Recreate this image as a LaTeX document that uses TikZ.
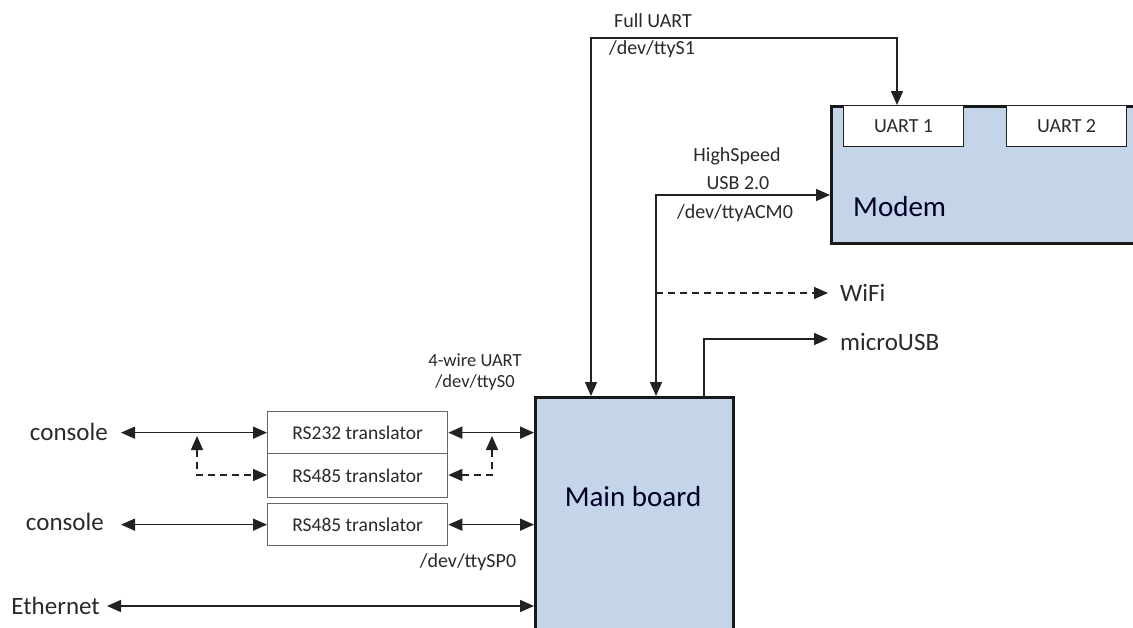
\documentclass[tikz,border=0pt]{standalone}
\usepackage{fontspec}
\setmainfont{Carlito}
\usetikzlibrary{arrows.meta}
\definecolor{boxblue}{HTML}{C5D5E9}
\definecolor{ink}{HTML}{222222}
\definecolor{txt}{HTML}{2A2A2A}
\begin{document}
\begin{tikzpicture}[x=1pt,y=-1pt,
  bigbox/.style={draw=black!90,line width=3pt,fill=boxblue,anchor=north west,inner sep=0pt},
  subbox/.style={draw=ink,line width=1.2pt,fill=white,anchor=north west,inner sep=0pt,font=\fontsize{20}{22}\selectfont,text=txt},
  trbox/.style={draw=black!60,line width=1.3pt,fill=white,anchor=north west,inner sep=0pt,font=\fontsize{19.5}{22}\selectfont,text=txt},
  biglbl/.style={font=\fontsize{29}{32}\selectfont,text=black!85!blue,inner sep=0pt},
  lbl/.style={font=\fontsize{25}{28}\selectfont,text=txt,inner sep=0pt},
  small/.style={font=\fontsize{20}{22}\selectfont,text=txt,inner sep=0pt},
  tight/.style={font=\fontsize{18.5}{20}\selectfont,text=txt,inner sep=0pt},
  conn/.style={draw=ink,line width=1.5pt},
  tipa/.style={-{Triangle[length=14pt,width=12pt]}},
  tipb/.style={{Triangle[length=14pt,width=12pt]}-{Triangle[length=14pt,width=12pt]}},
  dsh/.style={dash pattern=on 7pt off 5pt}
]
\useasboundingbox (0,0) rectangle (1133,627);
\clip (0,0) rectangle (1133,627);
\fill[white] (0,0) rectangle (1133,627);

% Main board and modem
\node[bigbox,minimum width=198pt,minimum height=260pt] (mb) at (534,396) {};
\node[biglbl] (mbt) at (633,497) {Main board};
\node[bigbox,minimum width=320pt,minimum height=137pt] (modem) at (830,105) {};
\node[biglbl,anchor=west] (modemt) at (853,207) {Modem};
\node[subbox,minimum width=120pt,minimum height=41pt] (u1) at (843,105) {UART 1};
\node[subbox,minimum width=120pt,minimum height=41pt] (u2) at (1006,105) {UART 2};

% translators
\node[trbox,minimum width=180pt,minimum height=42pt] (rs232) at (267,411) {RS232 translator};
\node[trbox,minimum width=180pt,minimum height=44pt] (rs485a) at (267,453) {RS485 translator};
\node[trbox,minimum width=180pt,minimum height=42pt] (rs485b) at (267,503) {RS485 translator};

% left labels
\node[lbl,anchor=east] (con1) at (108,432) {console};
\node[lbl,anchor=east] (con2) at (104,522) {console};
\node[lbl,anchor=east] (eth) at (100,606) {Ethernet};

% right labels
\node[lbl,anchor=west] (wifi) at (840,293) {WiFi};
\node[lbl,anchor=west] (musb) at (840,342) {microUSB};

% small labels
\node[small] (fuA) at (653,21) {Full UART};
\node[small] (fuB) at (652,49) {/dev/ttyS1};
\node[small] (hsA) at (737,156) {HighSpeed};
\node[small] (hsB) at (738,183) {USB 2.0};
\node[small] (hsC) at (735,213) {/dev/ttyACM0};
\node[tight] (fwA) at (475,360) {4-wire UART};
\node[tight] (fwB) at (475,383) {/dev/ttyS0};
\node[small] (sp0) at (468,562) {/dev/ttySP0};

% coordinates
\coordinate (fu1) at (591,38);
\coordinate (fu2) at (897,38);
\coordinate (usb1) at (656,195);
\coordinate (wf) at (656,293);
\coordinate (mu1) at (704,339);
\coordinate (dl1) at (197,436);
\coordinate (dl2) at (197,475);
\coordinate (dr1) at (492,436);
\coordinate (dr2) at (492,475);

% connectors
\draw[conn,tipb] (mb.north -| fu1) -- (fu1) -- (fu2) -- (fu2 |- u1.north);
\draw[conn,tipb] (mb.north -| usb1) -- (usb1) -- (usb1 -| modem.west);
\draw[conn,tipa,dsh] (wf) -- ([xshift=-12pt]wifi.west);
\draw[conn,tipa] (mb.north -| mu1) -- (mu1) -- ([xshift=-12pt]musb.west |- mu1);

\draw[conn,tipb] ([xshift=13pt]con1.east |- rs232.west) -- (rs232.west);
\draw[conn,tipb] ([xshift=17pt]con2.east |- rs485b.west) -- (rs485b.west);
\draw[conn,tipb] ([xshift=7pt]eth.east) -- (eth.east -| mb.west);
\draw[conn,tipb] (rs232.east) -- (rs232.east -| mb.west);
\draw[conn,tipb] (rs485b.east) -- (rs485b.east -| mb.west);
\draw[conn,tipb,dsh] (dl1) -- (dl2) -- (dl2 -| rs485a.west);
\draw[conn,tipb,dsh] (dr1) -- (dr2) -- (dr2 -| rs485a.east);
\end{tikzpicture}
\end{document}
